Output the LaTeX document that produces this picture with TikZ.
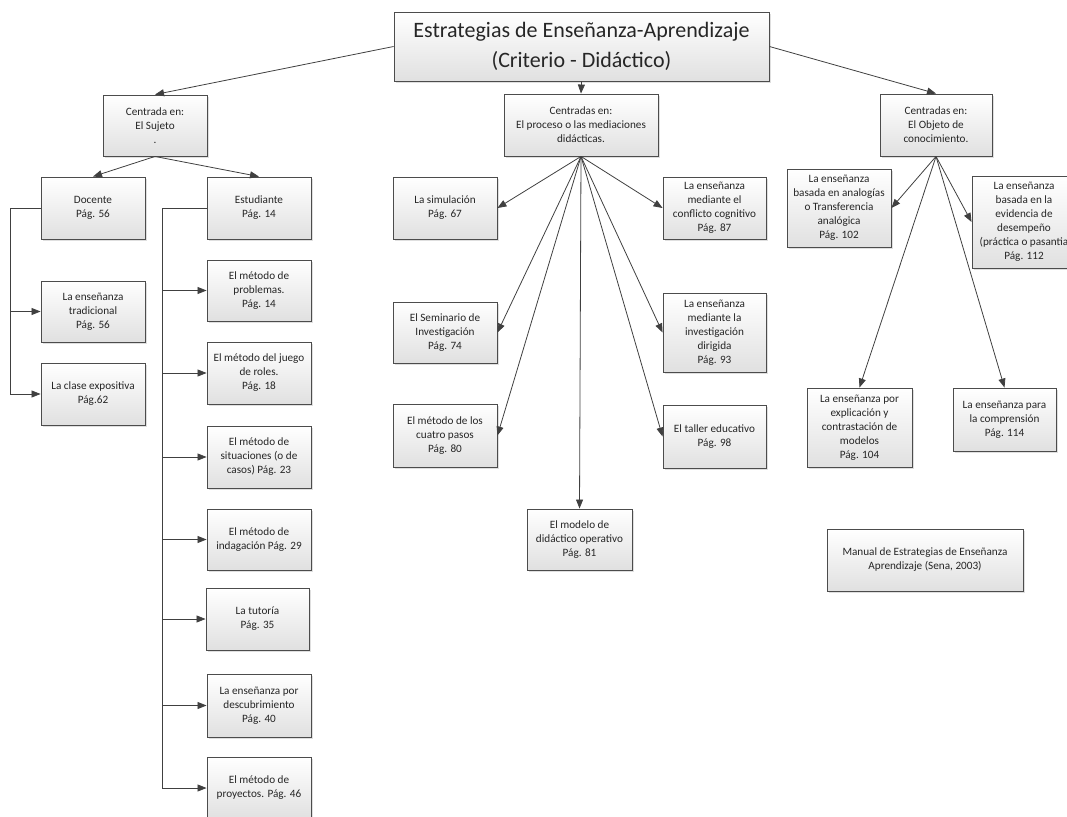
\documentclass[tikz,border=0pt]{standalone}
\usepackage{fontspec}
\setmainfont{Carlito}
\usetikzlibrary{arrows.meta,shadows}

\begin{document}
\begin{tikzpicture}[x=1pt,y=-1pt,
    box/.style={draw=black!70,line width=.9pt,rectangle,align=center,inner sep=1pt,
      top color=white,bottom color=black!12,
      drop shadow={opacity=.25,shadow xshift=2pt,shadow yshift=-2pt},
      font=\fontsize{11.2}{14}\selectfont,text=black!85},
    arr/.style={draw=black!75,line width=.8pt,-{Triangle[length=9pt,width=7pt]}}]
  \useasboundingbox (0,0) rectangle (1067,816);
  \clip (0,0) rectangle (1067,816);
  % top
  \node [box,minimum width=375,minimum height=69,font=\fontsize{22}{30}\selectfont] (tit) at (581.5,46.5)
    {Estrategias de Enseñanza-Aprendizaje\\(Criterio - Didáctico)};
  \node [box,minimum width=104,minimum height=61] (suj) at (155,125.5) {Centrada en:\\El Sujeto\\.};
  \node [box,minimum width=154,minimum height=62] (proc) at (581,125) {Centradas en:\\El proceso o las mediaciones\\didácticas.};
  \node [box,minimum width=112,minimum height=62] (obj) at (936,125) {Centradas en:\\El Objeto de\\conocimiento.};
  % el sujeto
  \node [box,minimum width=104,minimum height=62] (doc) at (93,208) {Docente\\Pág. 56};
  \node [box,minimum width=104,minimum height=62] (est) at (259,208) {Estudiante\\Pág. 14};
  \node [box,minimum width=104,minimum height=61] (trad) at (93,311.5) {La enseñanza\\tradicional\\Pág. 56};
  \node [box,minimum width=104,minimum height=62] (expo) at (93,394) {La clase expositiva\\Pág.62};
  \node [box,minimum width=104,minimum height=61] (prob) at (259,290.5) {El método de\\problemas.\\Pág. 14};
  \node [box,minimum width=104,minimum height=62] (roles) at (259,373) {El método del juego\\de roles.\\Pág. 18};
  \node [box,minimum width=104,minimum height=62] (sit) at (259,457) {El método de\\situaciones (o de\\casos) Pág. 23};
  \node [box,minimum width=104,minimum height=61] (indag) at (259,539.5) {El método de\\indagación Pág. 29};
  \node [box,minimum width=103,minimum height=62] (tut) at (257.5,619) {La tutoría\\Pág. 35};
  \node [box,minimum width=104,minimum height=63] (desc) at (259,705.5) {La enseñanza por\\descubrimiento\\Pág. 40};
  \node [box,minimum width=104,minimum height=62] (proy) at (259,788) {El método de\\proyectos. Pág. 46};
  % el proceso
  \node [box,minimum width=104,minimum height=62] (simu) at (445,208) {La simulación\\Pág. 67};
  \node [box,minimum width=103,minimum height=62] (confl) at (714.5,208) {La enseñanza\\mediante el\\conflicto cognitivo\\Pág. 87};
  \node [box,minimum width=104,minimum height=61] (semi) at (445,332.5) {El Seminario de\\Investigación\\Pág. 74};
  \node [box,minimum width=103,minimum height=79] (invest) at (714.5,332.5) {La enseñanza\\mediante la\\investigación\\dirigida\\Pág. 93};
  \node [box,minimum width=104,minimum height=63] (cuatro) at (445,435.5) {El método de los\\cuatro pasos\\Pág. 80};
  \node [box,minimum width=103,minimum height=63] (taller) at (714.5,436.5) {El taller educativo\\Pág. 98};
  \node [box,minimum width=105,minimum height=61] (modelo) at (579.5,539.5) {El modelo de\\didáctico operativo\\Pág. 81};
  % el objeto
  \node [box,minimum width=104,minimum height=78] (analog) at (839,208) {La enseñanza\\basada en analogías\\o Transferencia\\analógica\\Pág. 102};
  \node [box,minimum width=104,minimum height=92] (evid) at (1024,222) {La enseñanza\\basada en la\\evidencia de\\desempeño\\(práctica o pasantia\\Pág. 112};
  \node [box,minimum width=105,minimum height=79] (explic) at (859.5,427.5) {La enseñanza por\\explicación y\\contrastación de\\modelos\\Pág. 104};
  \node [box,minimum width=103,minimum height=63] (compr) at (1004.5,419.5) {La enseñanza para\\la comprensión\\Pág. 114};
  \node [box,minimum width=196,minimum height=62] (manual) at (925,560) {Manual de Estrategias de Enseñanza\\Aprendizaje (Sena, 2003)};
  % connectors
  \draw [arr] (tit.west) -- (suj.north);
  \draw [arr] (tit.east) -- (obj.north);
  \draw [arr] (tit.south) -- (proc.north);
  \draw [arr] (suj.south) -- (doc.north);
  \draw [arr] (suj.south) -- (est.north);
  \draw [draw=black!75,line width=.8pt] (doc.west) -- ++(-30,0) coordinate (docl);
  \foreach \b in {trad,expo}
    \draw [arr] (docl) |- (\b.west);
  \draw [draw=black!75,line width=.8pt] (est.west) -- ++(-44,0) coordinate (estl);
  \foreach \b in {prob,roles,sit,indag,tut,desc,proy}
    \draw [arr] (estl) |- (\b.west);
  \foreach \b in {simu,semi,cuatro}
    \draw [arr] (proc.south) -- (\b.east);
  \foreach \b in {confl,invest,taller}
    \draw [arr] (proc.south) -- (\b.west);
  \draw [arr] (proc.south) -- (modelo.north);
  \draw [arr] (obj.south) -- (analog.east);
  \draw [arr] (obj.south) -- (evid.west);
  \draw [arr] (obj.south) -- (explic.north);
  \draw [arr] (obj.south) -- (compr.north);
\end{tikzpicture}
\end{document}
